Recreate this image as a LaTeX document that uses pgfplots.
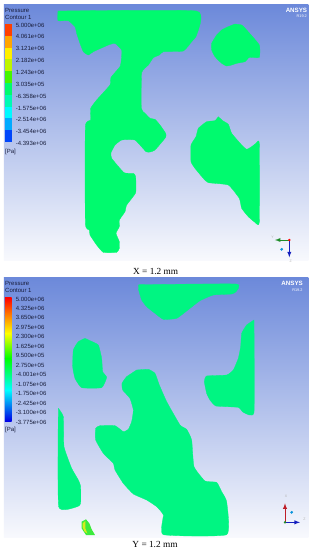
\documentclass[border=0pt]{standalone}
\usepackage{fontspec}
\setmainfont{Liberation Sans}
\newfontfamily\capfont{Liberation Serif}
\usepackage{pgfplots}
\pgfplotsset{compat=1.18}
\definecolor{bgtop}{RGB}{108,137,218}
\definecolor{bgbot}{RGB}{248,249,253}
\definecolor{fluid}{RGB}{0,250,110}
\definecolor{fluidb}{RGB}{0,245,130}
\definecolor{lab}{RGB}{25,30,60}
\definecolor{ba}{RGB}{255,64,0}
\definecolor{bb}{RGB}{255,165,0}
\definecolor{bc}{RGB}{255,240,0}
\definecolor{bd}{RGB}{190,245,0}
\definecolor{be}{RGB}{70,245,0}
\definecolor{bg}{RGB}{0,250,180}
\definecolor{bh}{RGB}{0,250,255}
\definecolor{bi}{RGB}{0,170,255}
\definecolor{bj}{RGB}{0,70,250}
\definecolor{tg}{RGB}{30,140,40}
\definecolor{tb}{RGB}{20,30,190}
\definecolor{tr}{RGB}{190,30,40}
\definecolor{sm}{RGB}{60,235,60}
\definecolor{sy}{RGB}{215,235,30}
\definecolor{deepb}{RGB}{0,0,230}
\pgfplotsset{panel/.style={scale only axis,width=313pt,xmin=0,xmax=939,ymin=0,y dir=reverse,hide axis,clip=false},
 shp/.style={draw=none,fill=#1,mark=none,forget plot},
 blob/.style={draw=#1,line width=.3pt,line join=round,fill=#1,mark=none,forget plot,smooth,tension=0.25}}
\tikzset{lbl/.style={font=\fontsize{6}{6}\selectfont,text=lab,anchor=west,inner sep=0pt},
 ans/.style={anchor=east,inner sep=0pt,text=white,font=\fontsize{6.2}{6.2}\selectfont\bfseries}}
\begin{document}
\begin{tikzpicture}
\path[use as bounding box,fill=white] (0,0) rectangle (313pt,550pt);
% ---------- Panel X
\begin{axis}[panel,at={(0,275pt)},height=275pt,ymax=825]
\addplot[draw=none,mark=none,top color=bgtop,bottom color=bgbot] coordinates {(12,14)(925,14)(925,782)(12,782)} --cycle;
\addplot[blob=fluid] coordinates {(174,33)(590,33)(590,105)(575,125)(550,153)(490,155)(478,165)(460,173)(445,195)(425,218)(424,325)(435,340)(450,355)(465,358)(480,375)(497,400)(497,412)(465,450)(450,456)(438,455)(405,420)(365,420)(345,435)(333,458)(335,475)(372,518)(400,520)(407,530)(407,578)(380,615)(375,635)(358,660)(358,680)(348,700)(358,725)(358,745)(350,757)(310,757)(290,735)(270,705)(268,690)(256,670)(256,380)(272,360)(272,325)(290,300)(330,255)(333,232)(360,200)(364,180)(365,150)(345,130)(325,135)(280,155)(265,165)(250,155)(240,130)(230,100)(225,80)(205,62)(174,62)(174,33)} --cycle;
\addplot[blob=fluid] coordinates {(705,72)(725,75)(740,90)(778,135)(778,172)(748,172)(735,185)(710,190)(695,195)(680,198)(665,190)(645,170)(635,150)(635,130)(650,105)(665,90)(680,82)(705,72)} --cycle;
\addplot[blob=fluid] coordinates {(655,350)(668,362)(685,373)(695,400)(725,435)(740,448)(755,440)(768,430)(778,430)(778,667)(765,667)(745,650)(725,625)(718,595)(685,555)(625,548)(610,535)(585,505)(573,485)(573,435)(588,410)(595,385)(620,365)(645,362)(655,350)} --cycle;
% colour bar
\addplot[shp=ba] coordinates {(15,73)(35,73)(35,108)(15,108)} --cycle;
\addplot[shp=bb] coordinates {(15,108)(35,108)(35,143)(15,143)} --cycle;
\addplot[shp=bc] coordinates {(15,143)(35,143)(35,178)(15,178)} --cycle;
\addplot[shp=bd] coordinates {(15,178)(35,178)(35,214)(15,214)} --cycle;
\addplot[shp=be] coordinates {(15,214)(35,214)(35,249)(15,249)} --cycle;
\addplot[shp=fluid] coordinates {(15,249)(35,249)(35,284)(15,284)} --cycle;
\addplot[shp=bg] coordinates {(15,284)(35,284)(35,320)(15,320)} --cycle;
\addplot[shp=bh] coordinates {(15,320)(35,320)(35,355)(15,355)} --cycle;
\addplot[shp=bi] coordinates {(15,355)(35,355)(35,390)(15,390)} --cycle;
\addplot[shp=bj] coordinates {(15,390)(35,390)(35,425)(15,425)} --cycle;
\node[lbl] at (axis cs:15,31) {Pressure};
\node[lbl] at (axis cs:15,51) {Contour 1};
\node[lbl] at (axis cs:47,76) {5.000e+06};
\node[lbl] at (axis cs:47,110) {4.061e+06};
\node[lbl] at (axis cs:47,146) {3.121e+06};
\node[lbl] at (axis cs:47,181) {2.182e+06};
\node[lbl] at (axis cs:47,217) {1.243e+06};
\node[lbl] at (axis cs:47,252) {3.035e+05};
\node[lbl] at (axis cs:47,288) {-6.358e+05};
\node[lbl] at (axis cs:47,324) {-1.575e+06};
\node[lbl] at (axis cs:47,359) {-2.514e+06};
\node[lbl] at (axis cs:47,395) {-3.454e+06};
\node[lbl] at (axis cs:47,430) {-4.393e+06};
\node[lbl] at (axis cs:15,455) {[Pa]};
\node[ans] at (axis cs:922,30) {ANSYS};
\node[anchor=east,inner sep=0pt,text=white] at (axis cs:921,50) {\fontsize{3.8}{4}\selectfont R19.2};
% triad
\addplot[mark=none,forget plot,line width=.9pt,color=tg,-latex] coordinates {(868,720)(825,720)};
\addplot[mark=none,forget plot,line width=.9pt,color=tb,-latex] coordinates {(868,720)(868,772)};
\addplot[only marks,mark=*,mark size=1pt,color=red,forget plot] coordinates {(868,720)};
\addplot[only marks,mark=*,mark size=1.2pt,color=cyan!80!blue,forget plot] coordinates {(845,748)};
\node[inner sep=0pt,text=gray!60] at (axis cs:818,712) {\fontsize{3.5}{4}\selectfont Y};
\node[inner sep=0pt,text=gray!60] at (axis cs:872,785) {\fontsize{3.5}{4}\selectfont Z};
\node[inner sep=0pt,text=black] at (axis cs:467,815) {\capfont\fontsize{9.3}{10}\selectfont X = 1.2 mm};
\end{axis}
% ---------- Panel Y
\begin{axis}[panel,at={(0,0)},height=280pt,ymax=840]
\addplot[draw=none,mark=none,top color=bgtop,bottom color=bgbot] coordinates {(12,22)(925,22)(925,802)(12,802)} --cycle;
\addplot[blob=fluidb] coordinates {(416,44)(708,42)(708,65)(695,72)(640,75)(600,92)(570,115)(530,145)(490,148)(465,130)(440,110)(425,90)(416,60)(416,44)} --cycle;
\addplot[blob=fluidb] coordinates {(762,150)(762,427)(730,427)(715,412)(648,408)(630,390)(620,370)(613,335)(620,318)(680,315)(700,300)(715,265)(722,230)(725,190)(740,165)(762,150)} --cycle;
\addplot[blob=fluidb] coordinates {(255,205)(270,212)(295,225)(305,265)(308,305)(320,322)(305,353)(245,353)(225,325)(218,290)(220,240)(235,215)(255,205)} --cycle;
\addplot[blob=fluidb] coordinates {(410,300)(445,298)(465,310)(478,345)(500,395)(540,465)(560,478)(575,510)(582,590)(615,633)(650,637)(665,665)(680,695)(680,794)(490,794)(490,735)(470,710)(440,690)(400,672)(370,640)(345,600)(340,580)(310,550)(287,510)(287,475)(300,467)(345,467)(370,485)(385,478)(395,455)(400,420)(390,385)(368,360)(366,340)(380,320)(410,300)} --cycle;
\addplot[blob=fluidb] coordinates {(175,415)(190,440)(192,530)(215,595)(235,630)(242,650)(242,700)(232,710)(176,710)(175,415)} --cycle;
\addplot[shp=sm] coordinates {(245,755)(258,748)(268,760)(275,778)(285,795)(258,795)(245,775)} --cycle;
\addplot[shp=sy] coordinates {(248,760)(256,753)(256,775)(262,790)(254,785)(248,772)} --cycle;
% colour bar
\addplot[draw=none,mark=none,top color=red,bottom color=orange] coordinates {(15,83)(35,83)(35,135)(15,135)} --cycle;
\addplot[draw=none,mark=none,top color=orange,bottom color=yellow] coordinates {(15,135)(35,135)(35,190)(15,190)} --cycle;
\addplot[draw=none,mark=none,top color=yellow,bottom color=green] coordinates {(15,190)(35,190)(35,265)(15,265)} --cycle;
\addplot[draw=none,mark=none,top color=green,bottom color=cyan] coordinates {(15,265)(35,265)(35,360)(15,360)} --cycle;
\addplot[draw=none,mark=none,top color=cyan,bottom color=deepb] coordinates {(15,360)(35,360)(35,453)(15,453)} --cycle;
\node[lbl] at (axis cs:15,41) {Pressure};
\node[lbl] at (axis cs:15,61) {Contour 1};
\node[lbl] at (axis cs:47,87) {5.000e+06};
\node[lbl] at (axis cs:47,115) {4.325e+06};
\node[lbl] at (axis cs:47,143) {3.650e+06};
\node[lbl] at (axis cs:47,172) {2.975e+06};
\node[lbl] at (axis cs:47,200) {2.300e+06};
\node[lbl] at (axis cs:47,229) {1.625e+06};
\node[lbl] at (axis cs:47,257) {9.500e+05};
\node[lbl] at (axis cs:47,286) {2.750e+05};
\node[lbl] at (axis cs:47,314) {-4.001e+05};
\node[lbl] at (axis cs:47,342) {-1.075e+06};
\node[lbl] at (axis cs:47,370) {-1.750e+06};
\node[lbl] at (axis cs:47,399) {-2.425e+06};
\node[lbl] at (axis cs:47,427) {-3.100e+06};
\node[lbl] at (axis cs:47,456) {-3.775e+06};
\node[lbl] at (axis cs:15,481) {[Pa]};
\node[ans] at (axis cs:909,40) {ANSYS};
\node[anchor=east,inner sep=0pt,text=white] at (axis cs:908,60) {\fontsize{3.8}{4}\selectfont R19.2};
% triad
\addplot[mark=none,forget plot,line width=.9pt,color=tr,-latex] coordinates {(855,757)(855,700)};
\addplot[mark=none,forget plot,line width=.9pt,color=tb,-latex] coordinates {(855,757)(900,757)};
\addplot[only marks,mark=*,mark size=1pt,color=tg,forget plot] coordinates {(855,757)};
\addplot[only marks,mark=*,mark size=1.2pt,color=cyan!80!blue,forget plot] coordinates {(875,727)};
\node[inner sep=0pt,text=gray!60] at (axis cs:858,680) {\fontsize{3.5}{4}\selectfont X};
\node[inner sep=0pt,text=gray!60] at (axis cs:913,748) {\fontsize{3.5}{4}\selectfont Z};
\node[inner sep=0pt,text=black] at (axis cs:465,823) {\capfont\fontsize{9.3}{10}\selectfont Y = 1.2 mm};
\end{axis}
\end{tikzpicture}
\end{document}
